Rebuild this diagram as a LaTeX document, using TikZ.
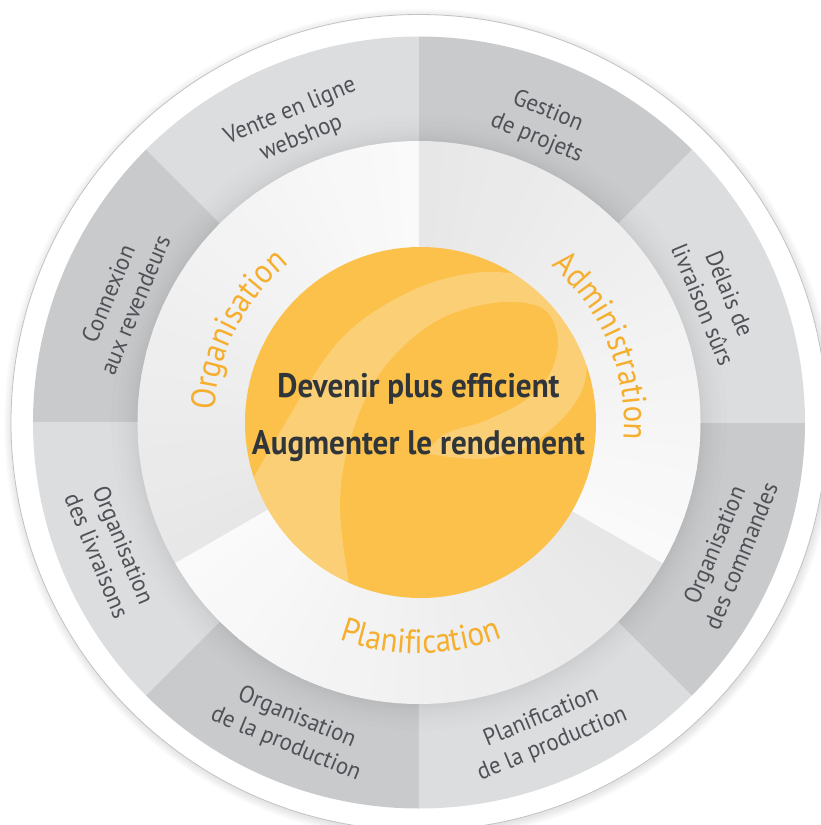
\documentclass[tikz,border=0pt]{standalone}
\usepackage{fontspec}
\usetikzlibrary{decorations.text}
\newfontfamily\centerfont{PT Sans}[FakeStretch=0.915]
\newfontfamily\ringfont{PT Sans}[FakeStretch=0.95]
\newfontfamily\arcfont{PT Sans}[FakeStretch=0.91]
\definecolor{ylw}{HTML}{FBC14B}
\definecolor{org}{HTML}{F6AE2D}
\definecolor{segdark}{HTML}{C9CACC}
\definecolor{seglight}{HTML}{DCDDDF}
\definecolor{inwhite}{HTML}{FAFAFA}
\definecolor{ingray}{HTML}{E7E7E8}
\definecolor{txtdark}{HTML}{30353A}
\definecolor{txtgray}{HTML}{4E5155}
\definecolor{rimline}{HTML}{C2C2C2}
\tikzset{
  ringlabel/.style={align=center, text=txtgray, inner sep=0pt,
    font=\ringfont\fontsize{24}{29}\selectfont},
  corelabel/.style={anchor=base, text=txtdark, inner sep=0pt,
    font=\centerfont\bfseries\fontsize{34}{34}\selectfont},
}
\begin{document}
\begin{tikzpicture}[x=1pt,y=1pt]
\useasboundingbox (-419,-402.5) rectangle (402,422.5);
\fill[white] (-419,-402.5) rectangle (402,422.5);
% soft shadow of the disc
\foreach \k in {1,...,9}{\fill[black,opacity=0.012] (1,-2) circle ({407+\k});}
% white rim disc
\draw[rimline, line width=0.8, fill=white] (0,0) circle (408);
% outer ring segments
\foreach \i in {0,...,7}{
  \pgfmathsetmacro\a{45*\i}
  \pgfmathsetmacro\b{45*\i+45}
  \pgfmathtruncatemacro\odd{mod(\i,2)}
  \ifnum\odd=1 \def\segc{segdark}\else\def\segc{seglight}\fi
  \fill[\segc] (\a:281) arc[start angle=\a, end angle=\b, radius=281]
     -- (\b:386) arc[start angle=\b, end angle=\a, radius=386] -- cycle;
}
% soft shading of the ring near its inner edge
\foreach \r in {283,285,287,290,293,297,302,308}{
  \fill[black,opacity=0.007,even odd rule] (0,0) circle (\r) (0,0) circle (281);}
% inner disc: three sectors with angular shading
\foreach \S in {90,210,330}{
  \foreach \j in {0,...,23}{
    \pgfmathsetmacro\s{\S+5*\j}
    \pgfmathsetmacro\e{\S+5*\j+(\j<23 ? 5.6 : 5)}
    \pgfmathsetmacro\p{100-\j*100/23}
    \fill[inwhite!\p!ingray] (0,0) -- (\s:281.5)
       arc[start angle=\s, end angle=\e, radius=281.5] -- cycle;
  }
}
% yellow core
\node[circle, fill=ylw, minimum size=351pt, inner sep=0pt] (core) at (1.5,0) {};
\begin{scope}
  \clip (1.5,0) circle (175.5);
  \begin{scope}[shift={(-419,422.5)}, yscale=-1]
    \fill[white, opacity=0.24]
      plot[smooth, tension=0.6] coordinates {(230,520) (283,427) (340,340) (407,293)
        (473,273) (530,277) (562,297) (580,335) (586,375) (570,410) (530,445)
        (490,458) (450,457) (427,453)}
      -- plot[smooth, tension=0.6] coordinates {(427,453) (445,434) (487,420) (530,397)
        (553,367) (557,333) (540,307) (493,303) (433,323) (380,373) (350,440)
        (340,507) (350,590) (360,640)}
      -- (150,640) -- cycle;
  \end{scope}
\end{scope}
\node[corelabel] (l1) at (-0.5,25.5) {Devenir plus efficient};
\node[corelabel] (l2) at (-0.5,-31.5) {Augmenter le rendement};
% orange arc labels
\path[decorate, decoration={text along path, text align=center,
  text={|\arcfont\fontsize{34}{34}\selectfont\color{org}|Organisation}}]
  (193:205) arc[start angle=193, end angle=113, radius=205];
\path[decorate, decoration={text along path, text align=center,
  text={|\arcfont\fontsize{34}{34}\selectfont\color{org}|Administration}}]
  (67:205) arc[start angle=67, end angle=-22, radius=205];
\path[decorate, decoration={text along path, text align=center,
  text={|\arcfont\fontsize{34}{34}\selectfont\color{org}|Planification}}]
  (225:231) arc[start angle=225, end angle=316, radius=231];
% ring labels
\node[ringlabel, rotate=22.5]  (s1) at (112.5:322) {Vente en ligne\\webshop};
\node[ringlabel, rotate=-22.5] (s2) at (67.5:322) {Gestion\\de projets};
\node[ringlabel, rotate=-67.5] (s3) at (22.5:322) {Délais de\\livraison sûrs};
\node[ringlabel, rotate=67.5]  (s4) at (157.5:322) {Connexion\\aux revendeurs};
\node[ringlabel, rotate=67.5]  (s5) at (-22.5:334) {Organisation\\des commandes};
\node[ringlabel, rotate=22.5]  (s6) at (-67.5:334) {Planification\\de la production};
\node[ringlabel, rotate=-22.5] (s7) at (247.5:334) {Organisation\\de la production};
\node[ringlabel, rotate=-67.5] (s8) at (202.5:334) {Organisation\\des livraisons};
\end{tikzpicture}
\end{document}
